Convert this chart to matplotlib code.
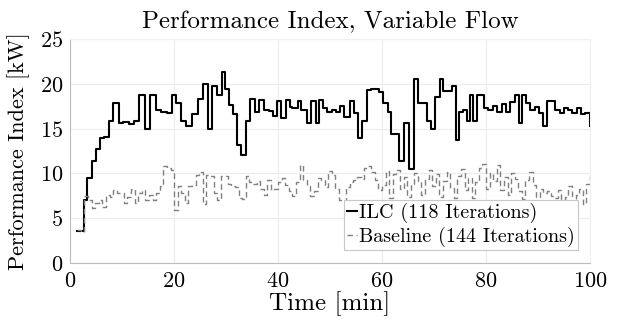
import numpy as np
from matplotlib import pyplot as plt

plt.rcParams['font.family'] = 'serif'
plt.rcParams['font.serif'] = ['cmr10']
plt.rcParams['mathtext.fontset'] = 'cm'
plt.rcParams['axes.unicode_minus'] = False
plt.rcParams['axes.formatter.use_mathtext'] = True

# ILC performance index per iteration (118 iterations) [kW]
ilc = [3.6, 7.05, 9.5, 11.4, 12.7, 13.9, 14.1, 15.9, 17.9, 17.9, 15.6, 15.7, 15.55, 15.9,
       18.8, 15.0, 18.8, 17.05, 16.9, 16.7, 18.8,
       17.9, 15.9, 15.3, 16.6, 18.25, 20.0, 14.95, 19.8, 18.8, 21.3, 19.4, 17.6, 16.6,
       13.2, 12.1, 15.8, 18.3, 16.9, 18.2, 17.1, 17.0, 16.4,
       18.1, 16.2, 18.2, 17.4, 17.25, 18.1, 17.1, 15.6, 18.1, 15.6, 18.2, 17.3, 16.9,
       17.1, 16.8, 17.5, 16.3, 18.1, 16.75, 14.0, 15.8, 19.3, 19.4,
       19.1, 17.9, 16.9, 14.4, 14.4, 11.35, 15.6, 10.5, 20.55, 17.9, 17.9, 15.8, 14.9,
       18.5, 20.5, 19.2, 19.2, 19.7, 13.7, 16.9, 17.1, 15.8, 18.8, 15.8, 18.8,
       18.7, 17.3, 17.1, 17.5, 16.9, 17.7, 16.9, 17.95, 18.8, 15.6, 18.8, 17.9, 17.1,
       17.4, 16.75, 15.3, 18.1, 18.1, 17.1, 16.75, 17.3, 17.1, 16.75, 17.3, 16.6, 16.75, 15.3]

# start time of each ILC iteration [min] (iterations are not of equal length)
t_ilc = [1.41, 2.69, 3.33, 4.17, 4.94, 5.77, 6.60, 7.44, 8.33, 8.85, 9.42, 10.26, 11.41,
         12.37, 13.33, 14.42, 15.45, 16.54, 17.5, 18.59, 19.55,
         20.39, 21.35, 22.38, 23.47, 24.56, 25.52, 26.48, 27.38, 28.27, 29.23, 29.87,
         30.65, 31.41, 32.12, 32.95, 33.85, 34.68, 35.52, 36.41, 37.25, 38.21, 38.98,
         39.87, 40.51, 41.6, 42.24, 42.76, 43.85, 44.49, 45.64, 46.41, 47.24, 47.88,
         48.65, 49.49, 50.45, 51.09, 51.86, 52.69, 53.85, 54.62, 55.38, 56.22, 57.05, 57.82,
         59.49, 60.26, 61.09, 61.73, 62.5, 63.33, 64.23, 65.13, 66.09, 66.99, 67.69,
         68.59, 69.43, 70.26, 71.15, 71.8, 72.63, 73.46, 74.23, 74.87, 75.64, 76.28,
         76.92, 77.56, 78.21,
         78.97, 79.62, 80.38, 81.35, 82.18, 83.08, 83.91, 84.68, 85.51, 86.28, 86.99,
         87.76, 88.53, 89.36, 90.13, 90.96, 91.73, 92.56, 93.33, 94.17, 95.0, 95.77,
         96.54, 97.44, 98.33, 99.1, 100.0]

# baseline performance index per iteration (144 iterations) [kW]
baseline = [3.7, 3.5, 7.5, 7.0, 6.1, 6.7, 7.0, 6.3, 7.6, 7.4, 8.2, 7.8, 7.8, 6.7, 7.4, 8.25,
            6.75, 7.8, 8.2, 7.05, 7.6, 7.05, 7.8, 8.6, 10.8, 10.6,
            10.4, 5.9, 8.6, 7.8, 6.7, 8.6, 8.7, 9.85, 10.2, 6.6, 9.85, 9.7, 7.8, 7.05, 9.7,
            9.7, 8.8, 8.6, 8.5, 7.2, 7.1, 9.7, 9.0, 8.8, 9.2, 8.3, 7.6, 9.3, 8.1,
            8.3, 9.0, 9.5, 8.7, 8.0, 7.5, 9.0, 10.9, 9.3, 8.6, 7.5, 8.0, 9.5, 9.3, 8.5,
            10.3, 9.8, 8.3, 7.0, 6.9, 8.5, 9.0, 9.3, 9.6, 9.4, 10.6, 10.8, 10.2,
            9.3, 8.2, 8.7, 10.3, 7.2, 9.9, 10.4, 8.3, 9.6, 7.4, 8.8, 10.1, 9.2, 7.6, 9.4,
            10.4, 8.6, 9.9, 7.4, 9.1, 10.2, 8.4, 7.3, 9.7, 10.5, 8.1, 9.5, 7.2, 9.0, 10.6,
            11.0, 8.3, 10.0, 9.2, 10.9, 8.1, 9.6, 7.6, 10.1, 9.4, 8.0, 7.1, 9.3, 10.2, 8.7,
            7.4, 8.3, 7.8, 8.0, 7.5, 7.3, 8.2, 7.0, 7.4, 8.6, 6.8, 7.6, 8.3, 6.6, 8.8, 9.7]

t_start, t_end = 1.4, 100.0  # time span of the baseline run [min]
t_base = np.linspace(t_start, t_end, len(baseline))

fig = plt.figure(figsize=(6.17, 3.25), dpi=100)
ax = fig.add_axes([70 / 617, 1 - 263 / 325, 520 / 617, 224 / 325])

ax.plot(t_ilc, ilc, color='k', lw=1.5, drawstyle='steps-post', label='ILC (118 Iterations)')
ax.plot(t_base, baseline, color='#808080', lw=1.0, ls=(0, (4, 2.5)), drawstyle='steps-post',
        label='Baseline (144 Iterations)')

ax.set_xlim(0, 100)
ax.set_ylim(0, 25)
ax.set_xticks([0, 20, 40, 60, 80, 100])
ax.set_yticks([0, 5, 10, 15, 20, 25])
ax.grid(True, color='#ececec', lw=0.8)
ax.set_axisbelow(True)
ax.tick_params(length=0, labelsize=16)
ax.tick_params(axis='x', pad=6)
ax.tick_params(axis='y', pad=5)
for s in ['left', 'bottom']:
    ax.spines[s].set_color('#bdbdbd')
for s in ['top', 'right']:
    ax.spines[s].set_color('#f0f0f0')

ax.set_xlabel('Time [min]', fontsize=18, labelpad=0)
ax.set_ylabel('Performance Index [kW]', fontsize=16, labelpad=7)
ax.set_title('Performance Index, Variable Flow', fontsize=18, pad=8)

leg = ax.legend(loc='lower right', bbox_to_anchor=(0.977, 0.058), borderaxespad=0,
                fontsize=14.5, handlelength=0.5, handletextpad=0.1, labelspacing=0.2,
                borderpad=0.15, fancybox=False, framealpha=1, edgecolor='#c8c8c8')
leg.get_frame().set_linewidth(0.8)

fig.savefig('out.png', dpi=100)
